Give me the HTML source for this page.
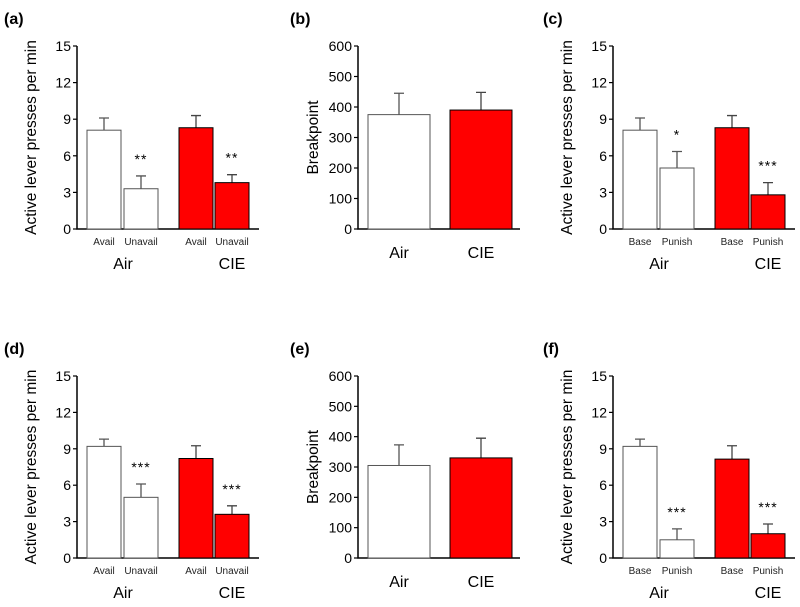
<!DOCTYPE html>
<html><head><meta charset="utf-8"><style>
body{margin:0;background:#fff;width:800px;height:602px;overflow:hidden}
svg{font-family:"Liberation Sans",Arial,sans-serif}
</style></head><body>
<svg id="fig" width="800" height="602"></svg>
<script>
const panelLetters=["(a)","(b)","(c)","(d)","(e)","(f)"];
const subLabelsA=["Avail","Unavail","Avail","Unavail"];
const subLabelsC=["Base","Punish","Base","Punish"];
const groupLabels=["Air","CIE"];
const rateTicks=[0,3,6,9,12,15];
const bpTicks=[0,100,200,300,400,500,600];
const aVals=[8.1,3.3,8.3,3.8]; const aErr=[1.0,1.05,1.0,0.65]; const aStars=["","**","","**"];
const bVals=[375,390]; const bErr=[70,58];
const cVals=[8.1,5.0,8.3,2.8]; const cErr=[1.0,1.35,1.0,1.0]; const cStars=["","*","","***"];
const dVals=[9.2,5.0,8.2,3.6]; const dErr=[0.6,1.1,1.05,0.7]; const dStars=["","***","","***"];
const eVals=[305,330]; const eErr=[68,65];
const fVals=[9.2,1.5,8.15,2.0]; const fErr=[0.6,0.9,1.1,0.8]; const fStars=["","***","","***"];

const NS="http://www.w3.org/2000/svg";
const svg=document.getElementById('fig');
function el(tag,attrs,parent,text){const e=document.createElementNS(NS,tag);for(const k in attrs)e.setAttribute(k,attrs[k]);if(text!==undefined)e.textContent=text;(parent||svg).appendChild(e);return e;}

function panel(id,letter,lx,ly,X,y0,y15,ticks,vals,errs,stars,subs,ytitle){
  const g=el('g',{});
  
  
  const maxT=ticks[ticks.length-1];
  const ys=v=>y0-(v/maxT)*(y0-y15);
  const t=el('text',{x:lx,y:ly,'font-size':16,'font-weight':'bold'},g,letter);
  
  
  const four=vals.length===4;
  const axEnd=four?X+182:X+162;
  const ax=el('path',{d:`M${X},${y15} V${y0} H${axEnd}`,stroke:'#000','stroke-width':1.5,fill:'none'},g);
  
  
  ticks.forEach(tv=>{
    const y=ys(tv);
    el('line',{x1:X-4,x2:X,y1:y,y2:y,stroke:'#000','stroke-width':1.2},g);
    const tl=el('text',{x:X-6,y:y+5,'font-size':14,'text-anchor':'end'},g,String(tv));
    
    
  });
  const yt=el('text',{x:0,y:0,'font-size':15.5,'text-anchor':'middle',transform:`translate(${four?X-41:X-40},${(y0+y15)/2}) rotate(-90)`},g,ytitle);
  
  
  const lefts=four?[10,47,102,138]:[10,92];
  const w=four?34:62;
  vals.forEach((v,i)=>{
    const bx=X+lefts[i], by=ys(v);
    const red=four?i>=2:i===1;
    const col=red?'#ff0000':'#fff';
    const ey=ys(v+errs[i]);
    const cx=bx+w/2;
    el('path',{d:`M${cx},${by} V${ey} M${cx-5},${ey} H${cx+5}`,stroke:red?'#444':'#555','stroke-width':1.3,fill:'none'},g);
    const r=el('rect',{x:bx,y:by,width:w,height:y0-by,fill:col,stroke:red?'#000':'#555','stroke-width':1},g);
    
    
    if(stars&&stars[i]){
      const s=el('text',{x:cx,y:ey-12,'font-size':14,'text-anchor':'middle','letter-spacing':1},g,stars[i]);
      
      
    }
    if(subs){
      const sl=el('text',{x:cx,y:y0+16,'font-size':10,'text-anchor':'middle',fill:'#222'},g,subs[i]);
      
      
    }
  });
  groupLabels.forEach((gl,j)=>{
    const cx=four?X+(j?155:46):X+lefts[j]+w/2;
    const tt=el('text',{x:cx,y:y0+(four?40:29),'font-size':16,'text-anchor':'middle'},g,gl);
    
    
  });
}
const rt="Active lever presses per min";
panel('a',panelLetters[0],4,24,77,229,46,rateTicks,aVals,aErr,aStars,subLabelsA,rt);
panel('b',panelLetters[1],290,24,358,229,46,bpTicks,bVals,bErr,null,null,"Breakpoint");
panel('c',panelLetters[2],543,24,613,229,46,rateTicks,cVals,cErr,cStars,subLabelsC,rt);
panel('d',panelLetters[3],4,354,77,558,376,rateTicks,dVals,dErr,dStars,subLabelsA,rt);
panel('e',panelLetters[4],290,354,358,558,376,bpTicks,eVals,eErr,null,null,"Breakpoint");
panel('f',panelLetters[5],543,354,613,558,376,rateTicks,fVals,fErr,fStars,subLabelsC,rt);
</script>
</body></html>
